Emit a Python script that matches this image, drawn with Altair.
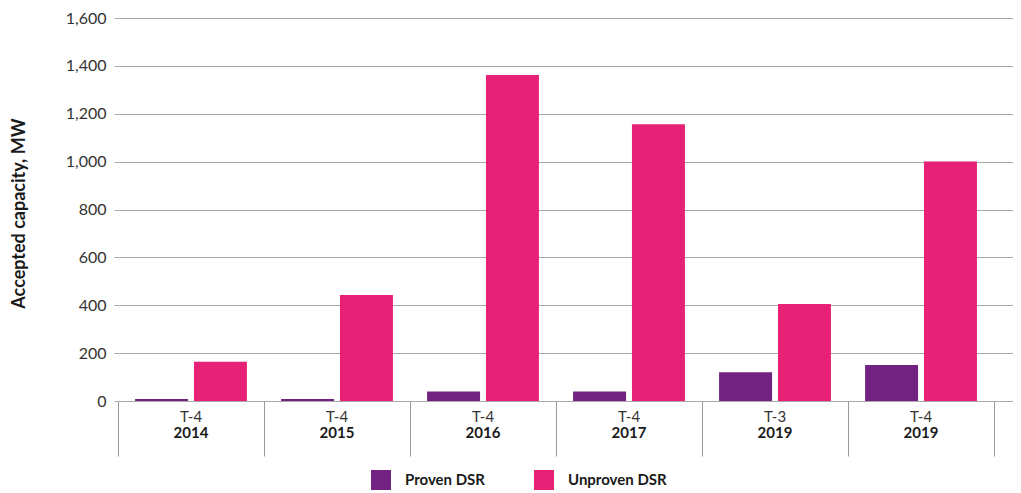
import altair as alt
import pandas as pd

keys = ["T-4 2014", "T-4 2015", "T-4 2016", "T-4 2017", "T-3 2019", "T-4 2019"]
auctions = ["T-4", "T-4", "T-4", "T-4", "T-3", "T-4"]
years = ["2014", "2015", "2016", "2017", "2019", "2019"]
proven = [8, 8, 40, 40, 120, 150]
unproven = [164, 443, 1362, 1156, 405, 1001]
series = ["Proven DSR", "Unproven DSR"]
colors = ["#722381", "#E72276"]

rows = []
for k, p, u in zip(keys, proven, unproven):
    rows.append({"key": k, "series": series[0], "value": p})
    rows.append({"key": k, "series": series[1], "value": u})
df = pd.DataFrame(rows)
lab = pd.DataFrame({"key": keys, "auction": auctions, "year": years})

FONT = "Lato"
xscale = alt.Scale(domain=keys, paddingInner=0, paddingOuter=0.065, align=0)

bars = alt.Chart(df).mark_bar().encode(
    x=alt.X("key:N", scale=xscale, sort=keys,
            axis=alt.Axis(title=None, labels=False, tickBand="extent", tickSize=55,
                          tickColor="#9a9a9a", domain=False, grid=False)),
    xOffset=alt.XOffset("series:N", sort=series,
                        scale=alt.Scale(paddingInner=0.1, paddingOuter=0.29)),
    y=alt.Y("value:Q", scale=alt.Scale(domain=[0, 1600]),
            axis=alt.Axis(title="Accepted capacity, MW", values=list(range(0, 1601, 200)),
                          format=",d", grid=True, gridColor="#a8a8a8", domain=False,
                          tickSize=4, tickColor="#a8a8a8", labelPadding=8,
                          labelFont=FONT, labelFontSize=16, labelColor="#333333",
                          titleFont=FONT, titleFontSize=18, titleFontWeight="bold",
                          titleColor="#1a1a1a", titleX=-99, titleY=195,
                          titleAngle=270, titleAlign="center", titleBaseline="middle")),
    color=alt.Color("series:N", sort=series,
                    scale=alt.Scale(domain=series, range=colors),
                    legend=alt.Legend(title=None, orient="none", direction="horizontal",
                                      legendX=253, legendY=452, padding=0,
                                      symbolType="square", symbolSize=400,
                                      symbolStrokeWidth=0, symbolOpacity=1,
                                      labelFont=FONT, labelFontSize=15,
                                      labelFontWeight="bold", labelColor="#1a1a1a",
                                      labelOffset=14, columnPadding=49)),
)

t1 = alt.Chart(lab).mark_text(font=FONT, fontSize=15, color="#333333",
                              baseline="alphabetic").encode(
    x=alt.X("key:N", sort=keys, scale=xscale), y=alt.value(404), text="auction:N")
t2 = alt.Chart(lab).mark_text(font=FONT, fontSize=15, fontWeight="bold", color="#1a1a1a",
                              baseline="alphabetic").encode(
    x=alt.X("key:N", sort=keys, scale=xscale), y=alt.value(420), text="year:N")

chart = alt.layer(bars, t1, t2).properties(
    width=895, height=383,
    autosize=alt.AutoSizeParams(type="none"),
    padding={"left": 110, "top": 10, "right": 0, "bottom": 100},
).configure_view(stroke=None)

chart.save("out.html", embed_options={"renderer": "svg", "actions": False})
